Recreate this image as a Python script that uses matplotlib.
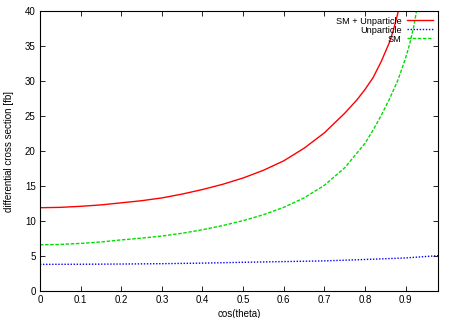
import matplotlib
matplotlib.use("Agg")
import matplotlib.pyplot as plt

plt.rcParams['font.family'] = ['Liberation Sans', 'DejaVu Sans']

# values
x_red = [0, 0.05, 0.1, 0.15, 0.2, 0.25, 0.3, 0.35, 0.4, 0.45, 0.5, 0.55, 0.6,
         0.65, 0.7, 0.75, 0.78, 0.8, 0.82, 0.84, 0.86, 0.87, 0.88, 0.89, 0.9]
y_red = [11.9, 11.95, 12.1, 12.3, 12.6, 12.9, 13.3, 13.85, 14.5, 15.25, 16.15, 17.25, 18.6,
         20.4, 22.6, 25.4, 27.3, 28.8, 30.5, 32.8, 35.5, 37.3, 39.5, 42.0, 44.8]

x_blue = [0, 0.1, 0.2, 0.3, 0.4, 0.5, 0.6, 0.7, 0.8, 0.9, 0.98]
y_blue = [3.8, 3.82, 3.85, 3.9, 3.98, 4.1, 4.2, 4.3, 4.5, 4.72, 5.05]

x_green = [0, 0.05, 0.1, 0.15, 0.2, 0.25, 0.3, 0.35, 0.4, 0.45, 0.5, 0.55, 0.6,
           0.65, 0.7, 0.75, 0.8, 0.82, 0.84, 0.86, 0.88, 0.89, 0.9, 0.91, 0.92, 0.93, 0.94]
y_green = [6.6, 6.65, 6.8, 7.0, 7.3, 7.55, 7.85, 8.25, 8.75, 9.35, 10.05, 10.9, 11.95,
           13.3, 15.1, 17.6, 21.1, 23.0, 25.1, 27.4, 30.0, 31.6, 33.3, 35.3, 37.8, 41.0, 45.0]

fig = plt.figure(figsize=(4.54, 3.18), dpi=100)
ax = fig.add_axes([0.088, 0.085, 0.877, 0.88])

ax.plot(x_red, y_red, color='#ff0000', lw=1.0, label='SM + Unparticle')
ax.plot(x_blue, y_blue, color='#0000ff', lw=1.0, linestyle=(0, (1, 1.2)), label='Unparticle')
ax.plot(x_green, y_green, color='#00dd00', lw=1.0, linestyle=(0, (2.5, 1.2)), label='SM')

ax.set_xlim(0, 0.98)
ax.set_ylim(0, 40)
ax.set_xticks([0, 0.1, 0.2, 0.3, 0.4, 0.5, 0.6, 0.7, 0.8, 0.9])
ax.set_xticklabels(['0', '0.1', '0.2', '0.3', '0.4', '0.5', '0.6', '0.7', '0.8', '0.9'])
ax.set_yticks([0, 5, 10, 15, 20, 25, 30, 35, 40])
ax.tick_params(direction='in', length=3.5, width=0.6, top=True, right=True,
               labelsize=7, pad=3)
for s in ax.spines.values():
    s.set_linewidth(0.8)

ax.set_xlabel('cos(theta)', fontsize=7, labelpad=3)
ax.set_ylabel('differential cross section [fb]', fontsize=7, labelpad=8)

ax.legend(loc='upper right', frameon=False, markerfirst=False, fontsize=6.6,
          handlelength=2.8, handletextpad=0.6, labelspacing=0.0,
          borderaxespad=0.2, borderpad=0.4)

fig.savefig('out.png', dpi=100)
